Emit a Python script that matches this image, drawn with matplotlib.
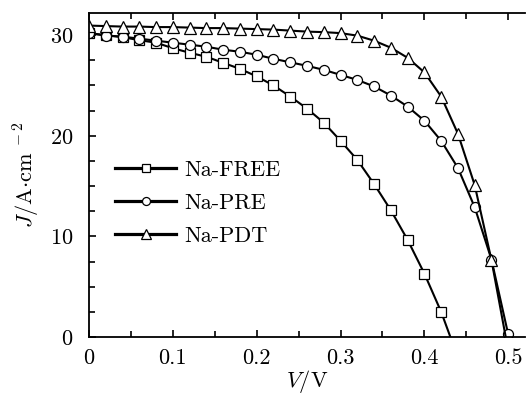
import numpy as np
import matplotlib
matplotlib.use("Agg")
import matplotlib.pyplot as plt
from matplotlib.ticker import MultipleLocator

plt.rcParams['font.family'] = ['cmr10', 'DejaVu Serif']
plt.rcParams['mathtext.fontset'] = 'cm'
plt.rcParams['axes.formatter.use_mathtext'] = True

# J-V curves (V in volts, J in A/cm^2)
v_free = [0.00, 0.02, 0.04, 0.06, 0.08, 0.10, 0.12, 0.14, 0.16, 0.18, 0.20,
          0.22, 0.24, 0.26, 0.28, 0.30, 0.32, 0.34, 0.36, 0.38, 0.40, 0.42, 0.431]
j_free = [30.2, 30.0, 29.8, 29.5, 29.25, 28.7, 28.25, 27.85, 27.25, 26.65, 25.9,
          25.0, 23.9, 22.7, 21.3, 19.5, 17.6, 15.2, 12.6, 9.65, 6.3, 2.5, 0.0]

v_pre = [0.00, 0.02, 0.04, 0.06, 0.08, 0.10, 0.12, 0.14, 0.16, 0.18, 0.20,
         0.22, 0.24, 0.26, 0.28, 0.30, 0.32, 0.34, 0.36, 0.38, 0.40, 0.42,
         0.44, 0.46, 0.48, 0.50]
j_pre = [30.2, 29.95, 29.85, 29.65, 29.45, 29.25, 29.05, 28.85, 28.55, 28.35, 28.05,
         27.65, 27.3, 26.95, 26.55, 26.05, 25.55, 24.9, 24.0, 22.9, 21.5, 19.5,
         16.8, 12.9, 7.7, 0.25]

v_pdt = [0.00, 0.02, 0.04, 0.06, 0.08, 0.10, 0.12, 0.14, 0.16, 0.18, 0.20,
         0.22, 0.24, 0.26, 0.28, 0.30, 0.32, 0.34, 0.36, 0.38, 0.40, 0.42,
         0.44, 0.46, 0.48, 0.497]
j_pdt = [30.95, 30.9, 30.85, 30.85, 30.8, 30.8, 30.75, 30.7, 30.7, 30.65, 30.6,
         30.55, 30.45, 30.35, 30.3, 30.2, 29.95, 29.45, 28.75, 27.75, 26.3, 23.9,
         20.2, 15.1, 7.65, 0.0]

labels = ['Na-FREE', 'Na-PRE', 'Na-PDT']

fig = plt.figure(figsize=(5.26, 3.96), dpi=100)
ax = fig.add_axes([89 / 526, 59 / 396, 436 / 526, 324 / 396])

style = dict(color='black', lw=1.5, markerfacecolor='white',
             markeredgecolor='black', markeredgewidth=0.9)
ax.plot(v_free, j_free, marker='s', markersize=6.5,
        markevery=list(range(len(v_free) - 1)), label=labels[0], **style)
ax.plot(v_pre, j_pre, marker='o', markersize=7.2, label=labels[1], **style)
ax.plot(v_pdt, j_pdt, marker='^', markersize=8.5,
        markevery=list(range(len(v_pdt) - 1)), label=labels[2], **style)

ax.set_xlim(0, 0.52)
ax.set_ylim(0, 32.2)
ax.xaxis.set_minor_locator(MultipleLocator(0.05))
ax.yaxis.set_major_locator(MultipleLocator(10))
ax.yaxis.set_minor_locator(MultipleLocator(2.5))
ax.set_xticks([0, 0.1, 0.2, 0.3, 0.4, 0.5])
ax.set_xticklabels(['0', '0.1', '0.2', '0.3', '0.4', '0.5'])
ax.tick_params(which='both', direction='in', top=True, right=False,
               labelsize=16, width=1.2)
ax.tick_params(axis='y', pad=11)
ax.tick_params(axis='x', pad=8)
ax.tick_params(which='major', length=5)
ax.tick_params(which='minor', length=4)
ax.spines['right'].set_visible(False)
for s in ['left', 'bottom', 'top']:
    ax.spines[s].set_linewidth(1.3)

ax.set_xlabel(r'$V$/V', fontsize=16, labelpad=0)
ax.set_ylabel(r'$J/\mathrm{A{\cdot}cm}^{\,\,-2}$', fontsize=16, labelpad=6)

leg = ax.legend(loc='upper left', bbox_to_anchor=(0.04, 0.573), frameon=False,
                fontsize=16, handlelength=2.75, handletextpad=0.35,
                labelspacing=0.6, borderaxespad=0.0, markerscale=0.8)
for h in leg.get_lines():
    h.set_linewidth(2.3)

fig.savefig('out.png', dpi=100)
